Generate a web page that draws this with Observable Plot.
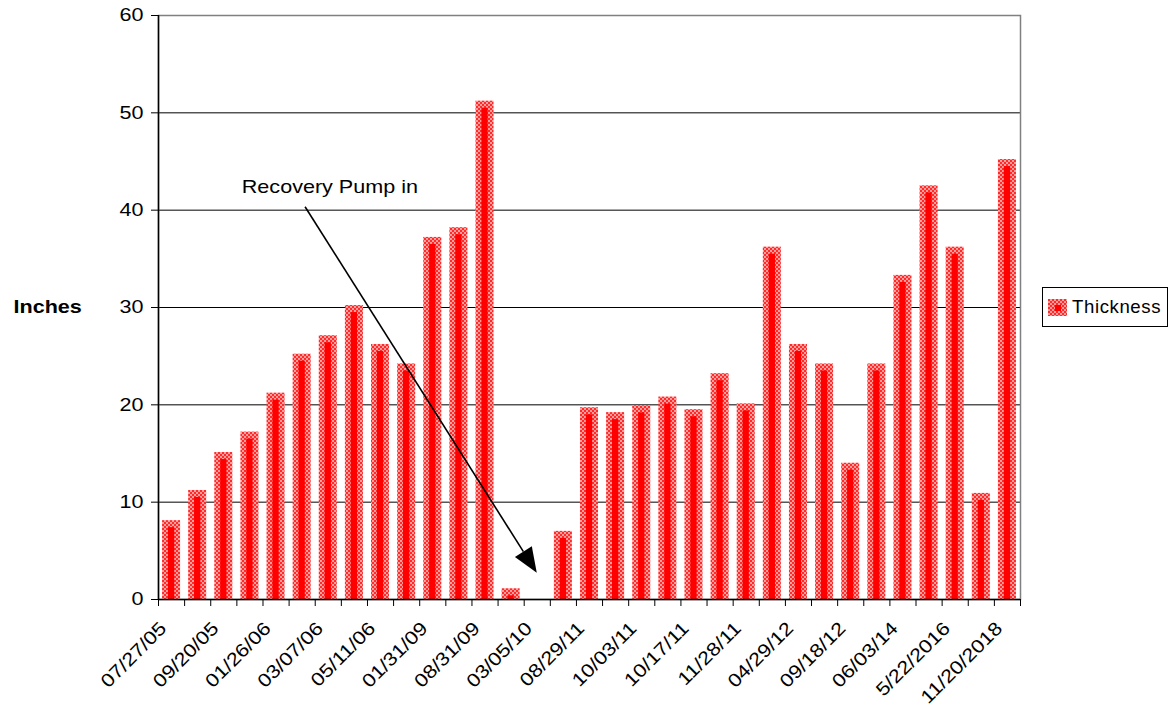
<!DOCTYPE html>
<html>
<head>
<meta charset="utf-8">
<script src="https://cdn.jsdelivr.net/npm/d3@7"></script>
<script src="https://cdn.jsdelivr.net/npm/@observablehq/plot@0.6"></script>
<style>
  body { margin: 0; background: #fff; }
  #wrap { position: relative; width: 1176px; height: 707px; font-family: "Liberation Sans", Arial, sans-serif; }
  #legend { position: absolute; left: 1042px; top: 287px; width: 126px; height: 40px; box-sizing: border-box;
            border: 1px solid #000; display: flex; align-items: center; font-size: 18.6px; letter-spacing: 0.6px; color: #000; }
  #legend .sw { width: 19px; height: 17px; margin-left: 5px; margin-right: 5px; position: relative;
                background-color: #ff2a2a;
                background-image: repeating-conic-gradient(#ff9c9c 0 25%, transparent 0 50%);
                background-size: 4px 4px; }
  #legend .sw::after { content: ""; position: absolute; left: 7px; top: 6px; width: 6px; height: 6px; background: #ff0000; }
</style>
</head>
<body>
<div id="wrap"><div id="chart"></div><div id="legend"><div class="sw"></div><span>Thickness</span></div></div>
<script>
// ---- data ----
const thickness = [8.1, 11.2, 15.1, 17.2, 21.2, 25.2, 27.1, 30.2, 26.2, 24.2, 37.2, 38.2, 51.2, 1.1, 0,
                   7.0, 19.7, 19.2, 19.9, 20.8, 19.5, 23.2, 20.1, 36.2, 26.2, 24.2, 14.0, 24.2, 33.3, 42.5, 36.2, 10.9, 45.2];
const tickLabels = ["07/27/05", "09/20/05", "01/26/06", "03/07/06", "05/11/06", "01/31/09", "08/31/09", "03/05/10",
                    "08/29/11", "10/03/11", "10/17/11", "11/28/11", "04/29/12", "09/18/12", "06/03/14", "5/22/2016", "11/20/2018"];
const labelStep = 2;
const yTicks = [0, 10, 20, 30, 40, 50, 60];
const gridValues = [10, 20, 30, 40, 50];
const yTitle = "Inches";
const seriesName = "Thickness";
const annotationText = "Recovery Pump in";
const annotationTextPos = [6.56, 42.4];     // [category position, inches]
const arrowFrom = [5.63, 40.3];
const arrowTo = [14.5, 2.7];

// ---- derived tables ----
const bars = thickness.map((v, i) => ({i, v}));
const xLabels = tickLabels.map((t, k) => ({i: k * labelStep, t}));
const halfBar = 0.345;
const svgNS = "http://www.w3.org/2000/svg";
const FS = 18.6, STRETCH = 1.16;

function defsMark() {
  const defs = document.createElementNS(svgNS, "defs");
  defs.innerHTML = `<pattern id="chk" width="4" height="4" patternUnits="userSpaceOnUse">
      <rect width="4" height="4" fill="#ff2a2a"/>
      <rect width="2" height="2" fill="#ff9c9c"/>
      <rect x="2" y="2" width="2" height="2" fill="#ff9c9c"/>
    </pattern>`;
  return defs;
}

function arrowMark(index, scales) {
  const g = document.createElementNS(svgNS, "g");
  const x1 = scales.x(arrowFrom[0]), y1 = scales.y(arrowFrom[1]);
  const x2 = scales.x(arrowTo[0]), y2 = scales.y(arrowTo[1]);
  const dx = x2 - x1, dy = y2 - y1, len = Math.hypot(dx, dy);
  const ux = dx / len, uy = dy / len;
  const hl = 25, hw = 10;
  const bx = x2 - ux * hl, by = y2 - uy * hl;
  const line = document.createElementNS(svgNS, "line");
  line.setAttribute("x1", x1); line.setAttribute("y1", y1);
  line.setAttribute("x2", bx); line.setAttribute("y2", by);
  line.setAttribute("stroke", "#000"); line.setAttribute("stroke-width", 1.6);
  const head = document.createElementNS(svgNS, "path");
  head.setAttribute("d", `M${x2},${y2}L${bx - uy * hw},${by + ux * hw}L${bx + uy * hw},${by - ux * hw}Z`);
  head.setAttribute("fill", "#000");
  g.append(line, head);
  return g;
}

const chart = Plot.plot({
  width: 1176,
  height: 707,
  marginLeft: 158,
  marginRight: 156,
  marginTop: 15,
  marginBottom: 108,
  style: {fontFamily: '"Liberation Sans", Arial, sans-serif', fontSize: FS + "px", background: "#fff", color: "#000"},
  x: {type: "linear", domain: [0, thickness.length], axis: null},
  y: {domain: [0, 60], axis: null},
  marks: [
    defsMark,
    Plot.ruleY(gridValues, {stroke: "#000", strokeWidth: 1}),
    Plot.frame({stroke: "#808080", strokeWidth: 1.5}),
    Plot.rectY(bars, {x1: d => d.i + 0.5 - halfBar, x2: d => d.i + 0.5 + halfBar, y1: 0, y2: "v", fill: "url(#chk)"}),
    Plot.rectY(bars.filter(d => d.v > 0.8), {x1: d => d.i + 0.5 - 0.12, x2: d => d.i + 0.5 + 0.12, y1: 0, y2: "v", insetTop: 7, fill: "#ff0000"}),
    Plot.ruleY([0], {stroke: "#000", strokeWidth: 1.5}),
    Plot.ruleX([0], {stroke: "#000", strokeWidth: 1.5}),
    Plot.ruleX(d3.range(thickness.length + 1), {x: d => d, y1: 0, y2: 0, insetBottom: -7, stroke: "#000"}),
    Plot.axisY({ticks: yTicks, tickSize: 7, tickPadding: 8, fontSize: FS, label: null, tickFormat: d => d}),
    Plot.text(xLabels, {x: d => d.i + 0.5, y: () => 0, text: "t", rotate: -45, textAnchor: "end", lineAnchor: "bottom", dx: -4, dy: 30, fontSize: FS}),
    Plot.text([yTitle], {text: d => d, y: () => 30, frameAnchor: "left", textAnchor: "start", dx: -145, fontWeight: "bold", fontSize: FS}),
    Plot.text([annotationText], {text: d => d, x: () => annotationTextPos[0], y: () => annotationTextPos[1], fontSize: FS}),
    arrowMark
  ]
});
// widen glyphs horizontally (the original uses a wide-set sans face)
chart.querySelectorAll("text").forEach(t => {
  const tr = t.getAttribute("transform");
  if (tr) t.setAttribute("transform", tr + ` scale(${STRETCH},1)`);
  else {
    const x = +t.getAttribute("x") || 0, y = +t.getAttribute("y") || 0;
    t.setAttribute("transform", `translate(${x},${y}) scale(${STRETCH},1) translate(${-x},${-y})`);
  }
});
document.getElementById("chart").append(chart);
document.querySelector("#legend span").textContent = seriesName;
</script>
</body>
</html>
